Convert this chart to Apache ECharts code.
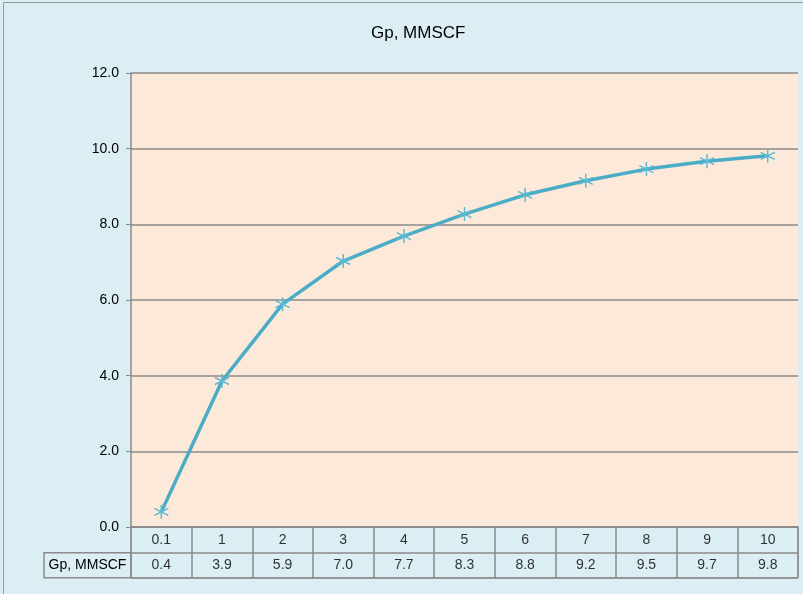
<!DOCTYPE html>
<html>
<head>
<meta charset="utf-8">
<script src="https://cdn.jsdelivr.net/npm/echarts@6/dist/echarts.min.js"></script>
<style>
  html, body { margin: 0; padding: 0; }
  #chart { width: 803px; height: 594px; }
</style>
</head>
<body>
<div id="chart"></div>
<script>
// 数据
const categories = ['0.1', '1', '2', '3', '4', '5', '6', '7', '8', '9', '10'];
const gpValues = [0.4, 3.86, 5.89, 7.03, 7.69, 8.27, 8.78, 9.15, 9.46, 9.67, 9.81];
const seriesName = 'Gp, MMSCF';

const font = "'Liberation Sans Narrow', 'Liberation Sans', Arial, sans-serif";
const gray = '#8a8a8a';
const lineColor = '#4bacc6';

// 数据表的文字
const tableCells = [];
categories.forEach(function (c, i) {
    tableCells.push([i, 0, c]);
    tableCells.push([i, 1, gpValues[i].toFixed(1)]);
});

const options = {
    backgroundColor: '#dbeef4',
    animation: false,
    textStyle: { fontFamily: font },
    title: {
        text: seriesName,
        left: 366,
        top: 20,
        textStyle: { fontFamily: font, fontSize: 17, fontWeight: 'normal', color: '#000' }
    },
    graphic: [
        {
            type: 'rect',
            shape: { x: 3.5, y: 2.5, width: 810, height: 600 },
            style: { fill: 'none', stroke: '#9a9a9a', lineWidth: 1 },
            silent: true
        }
    ],
    grid: [
        { left: 131, right: 5, top: 73, bottom: 67, show: true, backgroundColor: '#fde9d9', borderWidth: 0 },
        { left: 131, right: 5, top: 527, height: 51, show: true, borderColor: gray, borderWidth: 1 }
    ],
    xAxis: [
        {
            type: 'category',
            gridIndex: 0,
            data: categories,
            boundaryGap: true,
            axisLine: { show: true, lineStyle: { color: gray, width: 1.5 } },
            axisTick: { show: false },
            axisLabel: { show: false }
        },
        {
            type: 'category',
            gridIndex: 1,
            data: categories,
            boundaryGap: true,
            axisLine: { show: false },
            axisTick: { show: false },
            axisLabel: { show: false },
            splitLine: { show: true, interval: 0, lineStyle: { color: gray, width: 1.5 } }
        }
    ],
    yAxis: [
        {
            type: 'value',
            gridIndex: 0,
            min: 0,
            max: 12,
            interval: 2,
            axisLine: { show: true, lineStyle: { color: gray, width: 1.5 } },
            axisTick: { show: true, length: 5, lineStyle: { color: gray } },
            axisLabel: {
                color: '#000',
                fontSize: 14,
                margin: 12,
                formatter: function (v) { return v.toFixed(1); }
            },
            splitLine: { show: true, lineStyle: { color: gray, width: 1.5 } }
        },
        {
            type: 'category',
            gridIndex: 1,
            data: ['', seriesName],
            inverse: true,
            axisLine: { show: false },
            axisTick: { show: false },
            splitLine: { show: true, interval: 0, lineStyle: { color: gray, width: 1.5 } },
            axisLabel: {
                margin: 0,
                formatter: function (v) { return v ? '{c|' + v + '}' : ''; },
                rich: {
                    c: {
                        width: 87,
                        height: 25,
                        lineHeight: 25,
                        align: 'center',
                        fontSize: 14,
                        color: '#000',
                        fontFamily: font,
                        borderColor: gray,
                        borderWidth: 1.5
                    }
                }
            }
        }
    ],
    series: [
        {
            name: seriesName,
            type: 'line',
            xAxisIndex: 0,
            yAxisIndex: 0,
            data: gpValues,
            symbol: 'path://M5,0L5,10M0.7,2.5L9.3,7.5M0.7,7.5L9.3,2.5',
            symbolSize: 14,
            lineStyle: { color: lineColor, width: 3.5 },
            itemStyle: { color: lineColor, borderColor: '#5bbad4', borderWidth: 1.5 }
        },
        {
            type: 'scatter',
            xAxisIndex: 1,
            yAxisIndex: 1,
            data: tableCells,
            symbolSize: 1,
            itemStyle: { color: 'rgba(0,0,0,0)' },
            label: {
                show: true,
                position: 'inside',
                fontSize: 14,
                color: '#000',
                fontFamily: font,
                formatter: function (p) { return p.data[2]; }
            },
            silent: true
        }
    ]
};

const E = echarts.init(document.getElementById('chart'));
window.onresize = function () {
    E.resize();
};
E.setOption(options);
</script>
</body>
</html>
